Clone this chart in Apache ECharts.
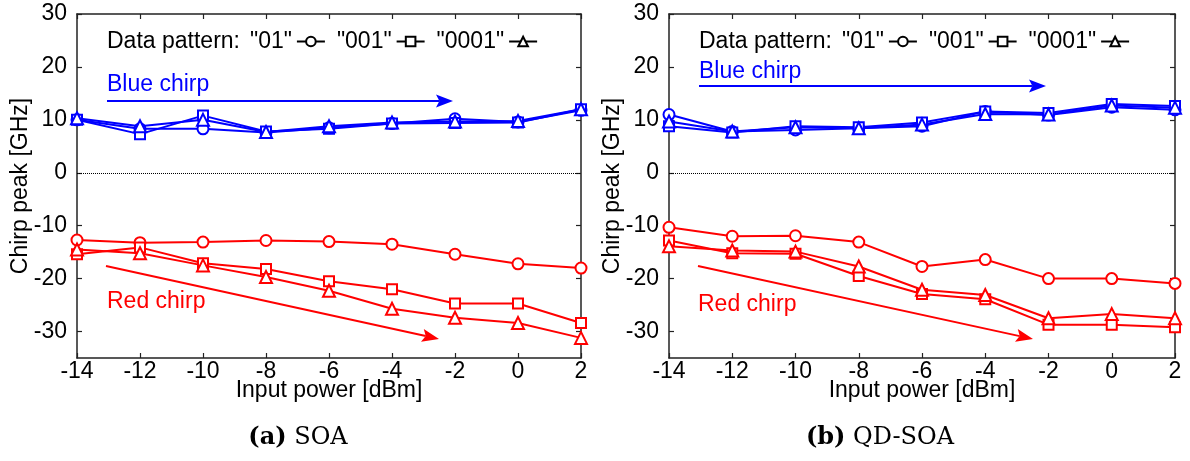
<!DOCTYPE html>
<html>
<head>
<meta charset="utf-8">
<script src="https://cdn.jsdelivr.net/npm/echarts@6/dist/echarts.min.js"></script>
<style>html,body{margin:0;padding:0;background:#fff;}#chart{width:1190px;height:461px;}</style>
</head>
<body>
<div id="chart"></div>
<script>
// ---- data ----
const inputPower = [-14, -12, -10, -8, -6, -4, -2, 0, 2];
const yTicks = [-30, -20, -10, 0, 10, 20, 30];
const patterns = ['"01"', '"001"', '"0001"'];

// (a) SOA
const soaBlue01   = [10.0, 8.3, 8.3, 7.6, 8.5, 9.3, 10.2, 9.6, 11.8];
const soaBlue001  = [10.0, 7.3, 10.8, 7.8, 8.3, 9.3, 9.4, 9.5, 12.0];
const soaBlue0001 = [10.3, 8.8, 10.0, 7.7, 8.8, 9.5, 9.7, 9.8, 12.0];
const soaRed01    = [-12.7, -13.2, -13.1, -12.8, -13.0, -13.5, -15.4, -17.2, -18.0];
const soaRed001   = [-15.4, -14.1, -17.1, -18.2, -20.5, -22.0, -24.7, -24.7, -28.4];
const soaRed0001  = [-14.5, -15.2, -17.5, -19.7, -22.3, -25.7, -27.4, -28.4, -31.2];

// (b) QD-SOA
const qdBlue01   = [11.0, 7.8, 8.1, 8.4, 8.8, 11.6, 10.9, 12.4, 11.9];
const qdBlue001  = [8.8, 7.6, 8.8, 8.6, 9.5, 11.6, 11.3, 13.0, 12.6];
const qdBlue0001 = [9.7, 7.8, 8.6, 8.4, 9.1, 11.1, 11.0, 12.7, 12.3];
const qdRed01    = [-10.3, -12.0, -11.9, -13.1, -17.7, -16.4, -20.0, -20.0, -20.9];
const qdRed001   = [-12.8, -15.2, -15.3, -19.5, -22.9, -23.9, -28.7, -28.7, -29.2];
const qdRed0001  = [-13.9, -14.7, -14.9, -17.7, -22.1, -23.1, -27.5, -26.7, -27.5];

// ---- styling ----
const FONT = 'Liberation Sans, Arial, Helvetica, sans-serif';
const SERIF = 'DejaVu Serif, Liberation Serif, serif';
const BLUE = '#0000ff', RED = '#ff0000', AX = '#222';
const symbols = ['circle', 'rect', 'triangle'];
const symSizes = [11, 10, 12];

function pairs(vals) { return inputPower.map((x, i) => [x, vals[i]]); }

function mkSeries(gi, vals, pi, color, withZero) {
  const s = {
    type: 'line', name: patterns[pi], xAxisIndex: gi * 2, yAxisIndex: gi * 2,
    data: pairs(vals), symbol: symbols[pi], symbolSize: symSizes[pi],
    showAllSymbol: true,
    lineStyle: { color: color, width: 2 },
    itemStyle: { color: '#fff', borderColor: color, borderWidth: 2 },
    emphasis: { disabled: true }, animation: false
  };
  if (withZero) {
    s.markLine = {
      silent: true, symbol: ['none', 'none'], animation: false,
      label: { show: false },
      lineStyle: { type: 'dotted', color: '#000', width: 1 },
      emphasis: { disabled: true },
      data: [{ yAxis: 0 }]
    };
  }
  return s;
}

function xAxes(gi) {
  const base = {
    gridIndex: gi, type: 'value', min: -14, max: 2, interval: 2,
    splitLine: { show: false },
    axisLine: { show: true, onZero: false, lineStyle: { color: AX, width: 1.5 } },
    axisTick: { show: true, inside: true, length: 5, lineStyle: { color: AX, width: 1.2 } }
  };
  return [
    Object.assign({}, base, {
      position: 'bottom',
      axisLabel: { color: '#000', fontSize: 23, fontFamily: FONT, margin: 2 },
      name: 'Input power [dBm]', nameLocation: 'middle', nameGap: 21, nameMoveOverlap: false,
      nameTextStyle: { color: '#000', fontSize: 23, fontFamily: FONT }
    }),
    Object.assign({}, base, { position: 'top', axisLabel: { show: false } })
  ];
}

function yAxes(gi) {
  const base = {
    gridIndex: gi, type: 'value', min: -35, max: 30,
    splitLine: { show: false },
    axisLine: { show: true, onZero: false, lineStyle: { color: AX, width: 1.5 } },
    axisTick: { show: true, inside: true, length: 5, customValues: yTicks, lineStyle: { color: AX, width: 1.2 } }
  };
  return [
    Object.assign({}, base, {
      position: 'left',
      axisLabel: { color: '#000', fontSize: 23, fontFamily: FONT, margin: 10, customValues: yTicks },
      name: 'Chirp peak [GHz]', nameLocation: 'middle', nameGap: 45, nameMoveOverlap: false,
      nameTextStyle: { color: '#000', fontSize: 23, fontFamily: FONT }
    }),
    Object.assign({}, base, { position: 'right', axisLabel: { show: false } })
  ];
}

function arrow(x1, y1, x2, y2, color) {
  const a = Math.atan2(y2 - y1, x2 - x1), c = Math.cos(a), s = Math.sin(a);
  const L = 17, W = 6.5;
  const bx = x2 - L * c, by = y2 - L * s;
  const nx = x2 - 0.8 * L * c, ny = y2 - 0.8 * L * s;
  return [
    { type: 'line', silent: true, shape: { x1: x1, y1: y1, x2: nx, y2: ny }, style: { stroke: color, lineWidth: 2 } },
    { type: 'polygon', silent: true, shape: { points: [[x2, y2], [bx - W * s, by + W * c], [nx, ny], [bx + W * s, by - W * c]] }, style: { fill: color } }
  ];
}

function txt(x, y, text, color, size) {
  return { type: 'text', silent: true, x: x, y: y,
    style: { text: text, fill: color, font: size + 'px ' + FONT, verticalAlign: 'middle', align: 'left' } };
}

function caption(x, tag, label) {
  return {
    type: 'text', silent: true, x: x, y: 438,
    style: { text: '{b|' + tag + '} ' + label, fill: '#000', font: '24px ' + SERIF, align: 'center', verticalAlign: 'middle',
      rich: { b: { fontWeight: 'bold', fontSize: 24, fontFamily: SERIF } } }
  };
}

const graphics = [].concat(
  txt(107, 42, 'Data pattern:', '#000', 23),
  txt(699, 42, 'Data pattern:', '#000', 23),
  txt(107, 85, 'Blue chirp', BLUE, 23),
  arrow(107, 101, 453, 101, BLUE),
  txt(699, 72, 'Blue chirp', BLUE, 23),
  arrow(699, 86, 1046, 86, BLUE),
  txt(107, 302, 'Red chirp', RED, 23),
  arrow(106, 266, 439, 339, RED),
  txt(698, 305, 'Red chirp', RED, 23),
  arrow(698, 266, 1033, 339, RED),
  caption(298, '(a)', 'SOA'),
  caption(880, '(b)', 'QD-SOA')
);

function legend(left) {
  return {
    left: left, top: 30, padding: 0, orient: 'horizontal', align: 'right',
    itemWidth: 28, itemHeight: 12, itemGap: 11, selectedMode: false,
    textStyle: { color: '#000', fontSize: 23, fontFamily: FONT },
    itemStyle: { color: '#fff', borderColor: '#000', borderWidth: 2 },
    lineStyle: { color: '#000', width: 2 },
    data: patterns.map(n => ({ name: n }))
  };
}

const option = {
  animation: false,
  backgroundColor: '#fff',
  grid: [
    { left: 77, right: 609, top: 14, bottom: 103 },
    { left: 669, right: 15, top: 14, bottom: 103 }
  ],
  xAxis: xAxes(0).concat(xAxes(1)),
  yAxis: yAxes(0).concat(yAxes(1)),
  legend: [legend(250), legend(842)],
  graphic: graphics,
  series: [
    mkSeries(0, soaBlue01, 0, BLUE, true),
    mkSeries(0, soaBlue001, 1, BLUE),
    mkSeries(0, soaBlue0001, 2, BLUE),
    mkSeries(0, soaRed01, 0, RED),
    mkSeries(0, soaRed001, 1, RED),
    mkSeries(0, soaRed0001, 2, RED),
    mkSeries(1, qdBlue01, 0, BLUE, true),
    mkSeries(1, qdBlue001, 1, BLUE),
    mkSeries(1, qdBlue0001, 2, BLUE),
    mkSeries(1, qdRed01, 0, RED),
    mkSeries(1, qdRed001, 1, RED),
    mkSeries(1, qdRed0001, 2, RED)
  ]
};

const chart = echarts.init(document.getElementById('chart'), null, { renderer: 'canvas' });
chart.setOption(option);
</script>
</body>
</html>
